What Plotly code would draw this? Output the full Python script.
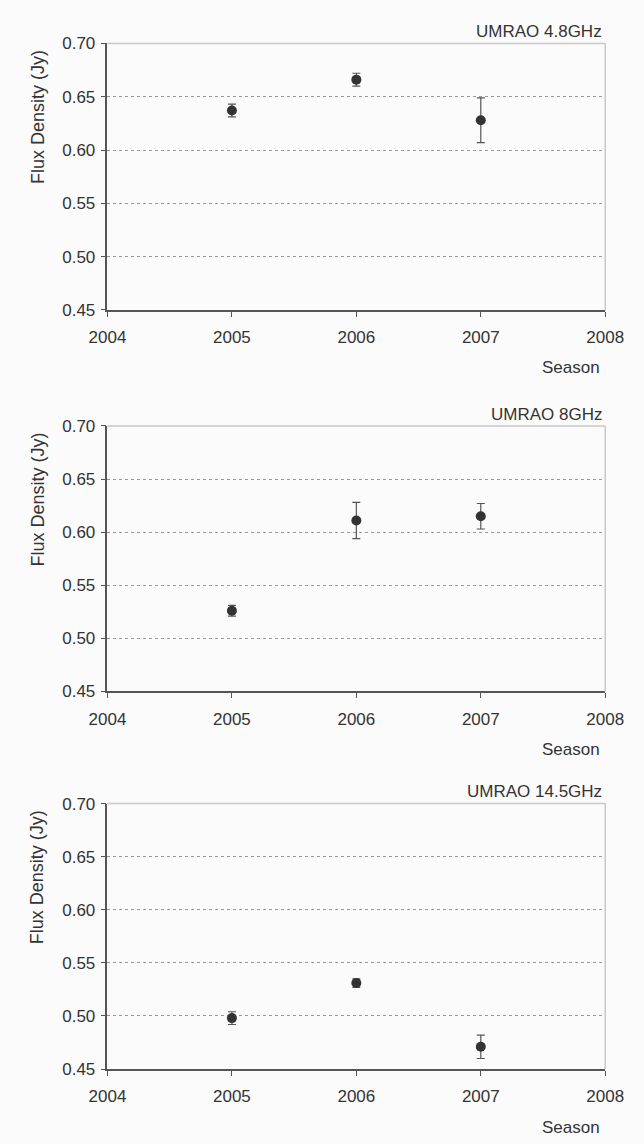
import plotly.graph_objects as go

seasons = [2005, 2006, 2007]
titles = ["UMRAO 4.8GHz", "UMRAO 8GHz", "UMRAO 14.5GHz"]
flux_48 = [0.637, 0.666, 0.628]
err_48 = [0.006, 0.006, 0.021]
flux_8 = [0.526, 0.611, 0.615]
err_8 = [0.005, 0.017, 0.012]
flux_145 = [0.498, 0.531, 0.471]
err_145 = [0.006, 0.004, 0.011]
y_ticks = [0.45, 0.50, 0.55, 0.60, 0.65, 0.70]
x_ticks = [2004, 2005, 2006, 2007, 2008]

series = [(flux_48, err_48), (flux_8, err_8), (flux_145, err_145)]

W, H = 644.0, 1144.0
# plot area pixel bounds (top, bottom) for each panel
panels_px = [(35, 306), (424, 694), (808, 1078)]
x_dom = [94 / W, 623 / W]

font = dict(family="Liberation Sans, Arial, sans-serif", size=17, color="#333333")
fig = go.Figure()
annotations = []
shapes = []
for i, ((vals, errs), title, (top, bot)) in enumerate(zip(series, titles, panels_px)):
    n = "" if i == 0 else str(i + 1)
    xa, ya = "x" + n, "y" + n
    fig.add_trace(go.Scatter(
        x=seasons, y=vals, mode="markers",
        marker=dict(symbol="circle", size=10, color="#333333"),
        error_y=dict(type="data", array=errs, visible=True, color="#555555", thickness=1.2, width=4),
        xaxis=xa, yaxis=ya, showlegend=False,
    ))
    ydom = [1 - bot / H, 1 - top / H]
    axis_common = dict(showline=True, linecolor="#555555", linewidth=1.5, ticks="outside",
                       ticklen=5, tickcolor="#555555", tickwidth=1, tickfont=font, zeroline=False)
    fig.layout["xaxis" + n] = dict(domain=x_dom, range=[2004, 2008], tickvals=x_ticks,
                                   ticktext=[str(t) for t in x_ticks], showgrid=False,
                                   anchor=ya, ticklabelstandoff=6, **axis_common)
    fig.layout["yaxis" + n] = dict(domain=ydom, range=[0.45, 0.70], tickvals=y_ticks,
                                   tickformat=".2f", showgrid=True, gridcolor="#999999",
                                   griddash="dot", gridwidth=1, anchor=xa,
                                   ticklabelstandoff=2, **axis_common)
    # light top/right frame
    shapes.append(dict(type="line", xref=xa + " domain", yref=ya + " domain",
                       x0=0, x1=1, y0=1, y1=1, line=dict(color="#c8c8c8", width=1.5)))
    shapes.append(dict(type="line", xref=xa + " domain", yref=ya + " domain",
                       x0=1, x1=1, y0=0, y1=1, line=dict(color="#c8c8c8", width=1.5)))
    annotations.append(dict(text=title, xref="paper", yref="paper", x=622 / W, xanchor="right",
                            y=1 - (top - 12) / H, yanchor="middle", showarrow=False, font=font))
    annotations.append(dict(text="Season", xref="paper", yref="paper", x=620 / W, xanchor="right",
                            y=1 - (bot + 59) / H, yanchor="middle", showarrow=False, font=font))
    annotations.append(dict(text="Flux Density (Jy)", xref="paper", yref="paper", x=20 / W,
                            xanchor="center", y=1 - (top + 75) / H, yanchor="middle",
                            textangle=-90, showarrow=False, font=dict(font, size=18)))

fig.update_layout(width=644, height=1144, margin=dict(l=0, r=0, t=0, b=0),
                  paper_bgcolor="#fbfbfb", plot_bgcolor="#fbfbfb",
                  annotations=annotations, shapes=shapes, font=font)
fig.write_html("out.html", config={"displayModeBar": False},
               post_script="document.body.style.margin='0';document.body.style.overflow='hidden';")
